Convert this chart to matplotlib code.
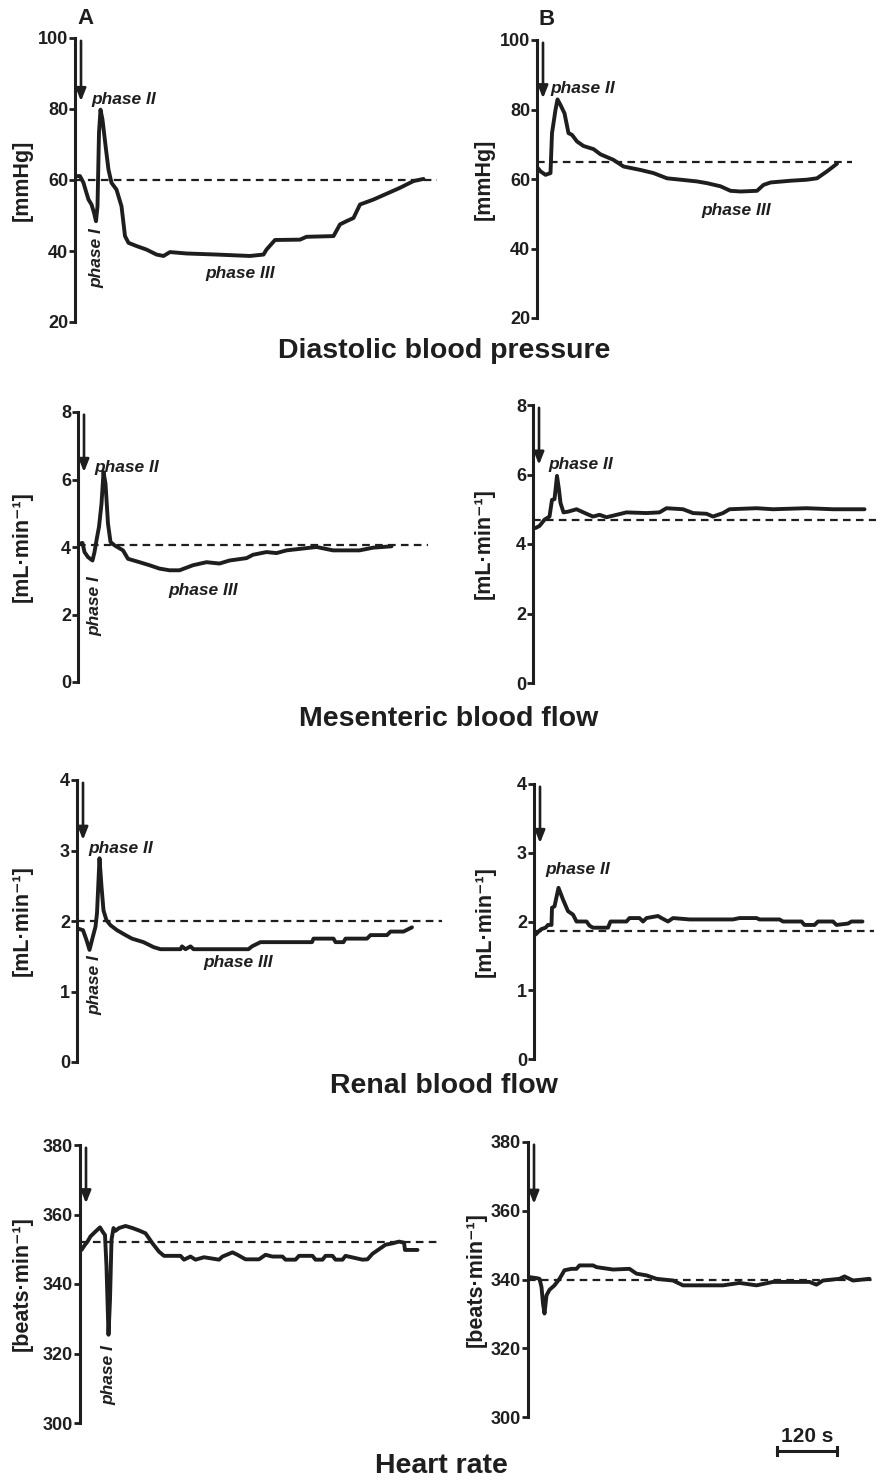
import numpy as np
import matplotlib
matplotlib.use("Agg")
import matplotlib.pyplot as plt

plt.rcParams["font.family"] = ["Liberation Sans", "DejaVu Sans"]
plt.rcParams["font.weight"] = "bold"
plt.rcParams["lines.scale_dashes"] = False

# ---- data (time in s, values in axis units) ----
dbp_a_t = [2, 10, 17, 22, 27, 33, 38, 42, 45, 48, 51, 55, 62, 67, 73, 83, 93, 100, 107, 123,
           143, 163, 177, 190, 223, 283, 350, 377, 383, 400, 450, 463, 517, 530, 543, 557,
           570, 597, 650, 677, 697]
dbp_a_v = [61.1, 61.1, 59.2, 56.8, 54.5, 53.1, 50.8, 48.4, 52.6, 73.3, 79.8, 77.0, 68.6, 62.9,
           59.2, 57.3, 52.6, 44.2, 42.3, 41.4, 40.4, 39.0, 38.6, 39.7, 39.3, 39.0, 38.6, 39.0,
           40.4, 43.1, 43.2, 44.0, 44.2, 47.5, 48.4, 49.3, 53.1, 54.5, 57.8, 59.7, 60.3]
dbp_a_base = 60

dbp_b_t = [2, 7, 17, 27, 30, 37, 41, 47, 55, 63, 70, 80, 93, 113, 127, 153, 173, 207, 233, 260,
           287, 320, 340, 367, 387, 407, 440, 453, 467, 507, 540, 560, 580, 600]
dbp_b_v = [63.1, 62.2, 61.2, 61.7, 73.2, 79.9, 82.9, 81.3, 78.9, 73.2, 72.7, 70.8, 69.5, 68.6,
           67.1, 65.5, 63.6, 62.6, 61.7, 60.2, 59.8, 59.3, 58.8, 57.9, 56.6, 56.4, 56.6, 58.3,
           59.0, 59.5, 59.8, 60.2, 62.2, 64.4]
dbp_b_base = 64.8

mes_a_t = [3, 9, 13, 20, 29, 33, 37, 42, 47, 51, 55, 60, 65, 73, 90, 100, 123, 143, 163, 183,
           203, 230, 257, 283, 303, 337, 350, 377, 397, 417, 477, 510, 563, 590, 627]
mes_a_v = [4.10, 4.12, 3.85, 3.70, 3.60, 3.85, 4.20, 4.60, 5.28, 6.22, 5.88, 4.69, 4.15, 4.05,
           3.90, 3.65, 3.55, 3.46, 3.36, 3.31, 3.31, 3.46, 3.55, 3.51, 3.60, 3.67, 3.77, 3.85,
           3.82, 3.90, 4.00, 3.90, 3.90, 3.98, 4.02]
mes_a_base = 4.05

mes_b_t = [5, 13, 23, 33, 38, 43, 48, 52, 55, 61, 70, 87, 107, 120, 133, 147, 167, 187, 227,
           253, 267, 300, 320, 347, 360, 380, 393, 447, 480, 547, 600, 663]
mes_b_v = [4.46, 4.52, 4.70, 4.79, 5.27, 5.29, 5.96, 5.56, 5.18, 4.91, 4.93, 5.00, 4.87, 4.79,
           4.84, 4.77, 4.84, 4.91, 4.89, 4.91, 5.03, 5.00, 4.89, 4.87, 4.79, 4.89, 5.00, 5.03,
           5.00, 5.03, 5.00, 5.00]
mes_b_base = 4.70

ren_a_t = [3, 12, 19, 25, 30, 37, 40, 45, 49, 53, 59, 67, 80, 97, 110, 133, 153, 167, 207, 210,
           217, 227, 233, 343, 350, 367, 420, 470, 473, 513, 517, 533, 537, 580, 587, 620,
           627, 653, 670]
ren_a_v = [1.89, 1.87, 1.73, 1.59, 1.73, 1.92, 2.11, 2.89, 2.49, 2.15, 2.01, 1.94, 1.87, 1.80,
           1.75, 1.70, 1.63, 1.60, 1.60, 1.64, 1.60, 1.64, 1.60, 1.60, 1.64, 1.70, 1.70, 1.70,
           1.75, 1.75, 1.70, 1.70, 1.75, 1.75, 1.80, 1.80, 1.85, 1.85, 1.91]
ren_a_base = 2.0

ren_b_t = [3, 10, 15, 23, 28, 35, 36, 41, 49, 58, 68, 78, 85, 105, 111, 118, 148, 153, 185, 191,
           211, 218, 225, 248, 255, 268, 278, 311, 398, 411, 445, 451, 491, 498, 535, 541,
           561, 568, 598, 605, 628, 635, 657]
ren_b_v = [1.81, 1.86, 1.89, 1.91, 1.95, 1.95, 2.20, 2.22, 2.49, 2.32, 2.15, 2.10, 2.00, 2.00,
           1.94, 1.91, 1.91, 2.00, 2.00, 2.05, 2.05, 2.00, 2.05, 2.08, 2.05, 2.00, 2.05, 2.03,
           2.03, 2.05, 2.05, 2.03, 2.03, 2.00, 2.00, 1.95, 1.95, 2.00, 2.00, 1.95, 1.97, 2.00,
           2.00]
ren_b_base = 1.86

hr_a_t = [3, 10, 15, 21, 31, 40, 45, 50, 53, 57, 60, 63, 67, 71, 78, 91, 105, 118, 131, 145,
          158, 168, 201, 208, 221, 231, 248, 278, 285, 305, 315, 331, 358, 371, 385, 405, 411,
          431, 438, 465, 471, 485, 491, 505, 511, 525, 531, 565, 575, 585, 598, 611, 625,
          638, 648, 650, 675]
hr_a_v = [349.8, 351.3, 352.2, 353.7, 355.1, 356.3, 355.1, 354.1, 345.0, 325.4, 335.5, 352.7,
          356.1, 355.3, 356.1, 356.7, 356.1, 355.4, 354.6, 351.7, 349.3, 348.1, 348.1, 347.0,
          347.9, 347.0, 347.7, 347.0, 347.9, 349.1, 348.4, 347.1, 347.1, 348.4, 347.9, 347.9,
          347.0, 347.0, 348.1, 348.1, 347.0, 347.0, 348.1, 348.1, 347.0, 347.0, 348.1, 347.0,
          347.1, 348.7, 350.0, 351.3, 351.7, 352.2, 351.9, 349.8, 349.8]
hr_a_base = 352

hr_b_t = [2, 17, 23, 27, 30, 33, 37, 43, 53, 63, 73, 87, 97, 103, 130, 137, 170, 203, 217, 237,
          257, 290, 310, 357, 390, 423, 457, 490, 523, 563, 577, 590, 623, 633, 650, 683]
hr_b_v = [340.7, 340.4, 340.2, 337.8, 333.0, 330.1, 335.4, 337.0, 338.3, 340.2, 342.7, 343.1,
          343.1, 344.1, 344.1, 343.6, 342.9, 343.1, 341.7, 341.2, 340.2, 339.7, 338.3, 338.3,
          338.3, 339.0, 338.3, 339.3, 339.3, 339.3, 338.5, 339.7, 340.2, 340.9, 339.7, 340.2]
hr_b_base = 340

row_titles = ["Diastolic blood pressure", "Mesenteric blood flow", "Renal blood flow", "Heart rate"]
row_units = ["[mmHg]", "[mL·min⁻¹]", "[mL·min⁻¹]", "[beats·min⁻¹]"]
row_ticks = [[20, 40, 60, 80, 100], [0, 2, 4, 6, 8], [0, 1, 2, 3, 4], [300, 320, 340, 360, 380]]
arrow_tips = [[82.2, 83.2], [6.22, 6.28], [3.15, 3.14], [363.2, 362.0]]
scale_bar_s = 120

series = [
    [(dbp_a_t, dbp_a_v, dbp_a_base), (dbp_b_t, dbp_b_v, dbp_b_base)],
    [(mes_a_t, mes_a_v, mes_a_base), (mes_b_t, mes_b_v, mes_b_base)],
    [(ren_a_t, ren_a_v, ren_a_base), (ren_b_t, ren_b_v, ren_b_base)],
    [(hr_a_t, hr_a_v, hr_a_base), (hr_b_t, hr_b_v, hr_b_base)],
]

# ---- layout in pixels: spine x, top y, bottom y, right x ----
W, H = 877, 1482
SEC_PER_PX = 2.0
boxes = [
    [(75, 38, 322, 437), (537, 40, 318, 852)],
    [(78, 412, 682, 428), (533, 405, 683, 876)],
    [(77, 780, 1062, 442), (534, 784, 1059, 874)],
    [(80, 1145, 1423, 440), (528, 1142, 1417, 873)],
]
label_right = [[33, 495], [33, 495], [33, 496], [33, 487]]
title_pos = [(444, 358), (449, 726), (444, 1093), (441, 1473)]
INK = "#1e1e1e"

fig = plt.figure(figsize=(W / 100, H / 100), dpi=100)
axes = []
for r in range(4):
    row_axes = []
    for c in range(2):
        sx, ty, by, rx = boxes[r][c]
        ax = fig.add_axes([sx / W, 1 - by / H, (rx - sx) / W, (by - ty) / H])
        ax.set_xlim(0, (rx - sx) * SEC_PER_PX)
        ticks = row_ticks[r]
        ax.set_ylim(ticks[0], ticks[-1])
        ax.set_yticks(ticks)
        ax.set_facecolor("none")
        for s in ["top", "right", "bottom"]:
            ax.spines[s].set_visible(False)
        ax.spines["left"].set_linewidth(2.2)
        ax.spines["left"].set_color(INK)
        ax.set_xticks([])
        ax.tick_params(axis="y", length=4, width=2, color=INK, pad=1,
                       labelsize=13, labelcolor=INK)
        for lab in ax.get_yticklabels():
            lab.set_fontweight("bold")
        ax.set_ylabel(row_units[r], fontsize=15.5, fontweight="bold", color=INK)
        ax.yaxis.set_label_coords((label_right[r][c] - sx) / (rx - sx), 0.5)

        t, v, base = series[r][c]
        ax.axhline(base, color=INK, lw=1.6, linestyle=(0, (5.5, 3.8)))
        ax.plot(t, v, color=INK, lw=2.8, solid_joinstyle="round", solid_capstyle="round",
                clip_on=False)
        ax.annotate("", xy=(12, arrow_tips[r][c]), xytext=(12, ticks[-1] - (ticks[-1] - ticks[0]) * 0.01),
                    arrowprops=dict(arrowstyle="-|>,head_length=0.75,head_width=0.3",
                                    color=INK, lw=1.9, shrinkA=0, shrinkB=0))
        row_axes.append(ax)
    axes.append(row_axes)
    tx, ty_ = title_pos[r]
    fig.text(tx / W, 1 - ty_ / H, row_titles[r], ha="center", va="baseline",
             fontsize=20.5, fontweight="bold", color=INK)

ph = dict(fontsize=12.5, fontweight="bold", style="italic", color=INK)
# phase annotations
axes[0][0].text(33, 82.6, "phase II", ha="left", va="center", **ph)
axes[0][0].text(43, 46.5, "phase I", ha="center", va="top", rotation=90, **ph)
axes[0][0].text(330, 33.7, "phase III", ha="center", va="center", **ph)
axes[0][1].text(27, 85.9, "phase II", ha="left", va="center", **ph)
axes[0][1].text(399, 50.9, "phase III", ha="center", va="center", **ph)

axes[1][0].text(32, 6.35, "phase II", ha="left", va="center", **ph)
axes[1][0].text(33, 3.15, "phase I", ha="center", va="top", rotation=90, **ph)
axes[1][0].text(251, 2.72, "phase III", ha="center", va="center", **ph)
axes[1][1].text(30, 6.3, "phase II", ha="left", va="center", **ph)

axes[2][0].text(23, 3.03, "phase II", ha="left", va="center", **ph)
axes[2][0].text(35, 1.52, "phase I", ha="center", va="top", rotation=90, **ph)
axes[2][0].text(323, 1.41, "phase III", ha="center", va="center", **ph)
axes[2][1].text(23, 2.75, "phase II", ha="left", va="center", **ph)

axes[3][0].text(57, 322.5, "phase I", ha="center", va="top", rotation=90, **ph)

# panel letters
axes[0][0].text(20, 105.5, "A", ha="center", va="center", fontsize=16, fontweight="bold", color=INK)
axes[0][1].text(19, 106, "B", ha="center", va="center", fontsize=16, fontweight="bold", color=INK)

# time scale bar
axb = axes[3][1]
x0 = 498
axb.plot([x0, x0 + scale_bar_s], [290.1, 290.1], color=INK, lw=2.2, clip_on=False)
for xe in [x0, x0 + scale_bar_s]:
    axb.plot([xe, xe], [288.9, 291.3], color=INK, lw=2.2, clip_on=False)
axb.text(x0 + scale_bar_s / 2, 291.6, f"{scale_bar_s} s", ha="center", va="bottom",
         fontsize=15, fontweight="bold", color=INK)

fig.savefig("out.png", dpi=100)
